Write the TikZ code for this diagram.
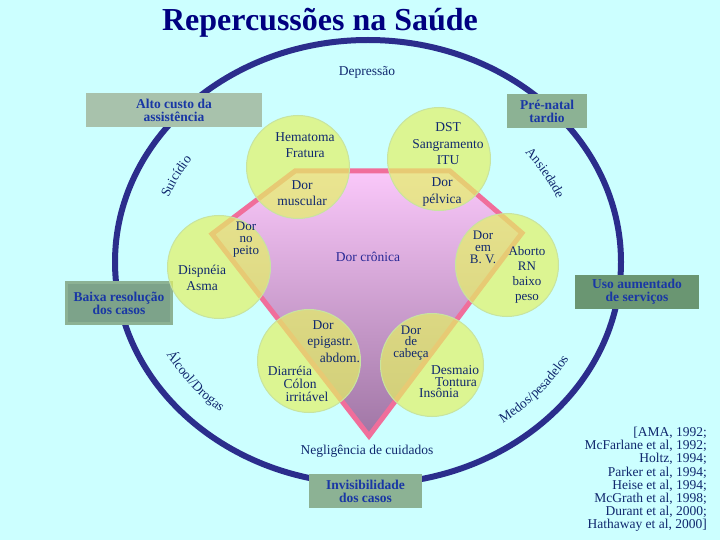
\documentclass[tikz,border=0pt]{standalone}
\usepackage{fontspec}
\setmainfont{Liberation Serif}
\usetikzlibrary{decorations.text}

\definecolor{bgcyan}{RGB}{204,255,255}
\definecolor{ringblue}{RGB}{43,45,140}
\definecolor{titlenavy}{RGB}{0,0,128}
\definecolor{boxtext}{RGB}{25,55,165}
\definecolor{inktext}{RGB}{16,40,110}
\definecolor{chrontext}{RGB}{40,40,150}
\definecolor{penline}{RGB}{240,110,155}
\definecolor{pentop}{RGB}{250,200,250}
\definecolor{penbot}{RGB}{160,118,165}
\definecolor{blobfill}{RGB}{228,242,100}
\definecolor{blobedge}{RGB}{200,228,160}
\definecolor{boxa}{RGB}{168,194,172}
\definecolor{boxb}{RGB}{140,178,148}
\definecolor{boxc}{RGB}{125,163,138}
\definecolor{boxd}{RGB}{106,150,114}

\newcommand\arcfont{\fontsize{13.5}{13.5}\selectfont}

\tikzset{
  blob/.style={circle, minimum size=103pt, inner sep=0pt, fill=blobfill, fill opacity=0.7, draw=blobedge, line width=1pt},
  tag/.style={rectangle, inner sep=0pt, align=center, text=boxtext, font=\fontsize{13.5}{13}\selectfont\bfseries},
  lbl/.style={inner sep=0pt, align=center, text=inktext, font=\fontsize{13.5}{16.5}\selectfont},
  tight/.style={font=\fontsize{13}{12}\selectfont},
}

\begin{document}
\begin{tikzpicture}[x=1pt, y=-1pt]
  \fill[bgcyan] (0,0) rectangle (720,540);
  \useasboundingbox (0,0) rectangle (720,540);
  \node[text=titlenavy, font=\fontsize{32}{32}\selectfont\bfseries, inner sep=0pt] (title) at (320,23) {Repercussões na Saúde};

  \draw[line width=6pt, ringblue] (368,262) ellipse [x radius=253, y radius=222];

  \node[tag, fill=boxa, minimum width=176pt, minimum height=34pt] (alto) at (174,110) {Alto custo da\\assistência};
  \node[tag, fill=boxb, minimum width=80pt, minimum height=34pt] (prenatal) at (547,111) {Pré-natal\\tardio};
  \node[tag, fill=boxc, draw=boxb, line width=3pt, minimum width=105pt, minimum height=41pt] (baixa) at (119,303) {Baixa resolução\\dos casos};
  \node[tag, fill=boxd, minimum width=124pt, minimum height=34pt] (uso) at (637,292) {Uso aumentado\\de serviços};
  \node[tag, fill=boxb, minimum width=113pt, minimum height=34pt] (invis) at (365.5,491) {Invisibilidade\\dos casos};

  \node[lbl] (depr) at (367,72) {Depressão};
  \path[decorate, decoration={text along path, text align=center, text color=inktext, text={|\arcfont|Suicídio}}]
    ([shift={(368,262)}]187:213 and 182) arc[start angle=187, end angle=227, x radius=213, y radius=182];
  \path[decorate, decoration={text along path, text align=center, text color=inktext, text={|\arcfont|Ansiedade}}]
    ([shift={(368,262)}]-50:203 and 172) arc[start angle=-50, end angle=-10, x radius=203, y radius=172];
  \path[decorate, decoration={text along path, text align=center, text color=inktext, text={|\arcfont|Medos/pesadelos}}]
    ([shift={(368,262)}]68:230 and 199) arc[start angle=68, end angle=14, x radius=230, y radius=199];
  \path[decorate, decoration={text along path, text align=center, text color=inktext, text={|\arcfont|Álcool/Drogas}}]
    ([shift={(368,262)}]170:228 and 197) arc[start angle=170, end angle=114, x radius=228, y radius=197];

  \draw[line width=5pt, penline, top color=pentop, bottom color=penbot, line join=miter]
    (295,171) -- (450,171) -- (522,233) -- (369,436) -- (212,234) -- cycle;

  \node[blob] (hema) at (298,167) {};
  \node[blob] (dst) at (439,159) {};
  \node[blob] (dispn) at (219,267) {};
  \node[blob] (aborto) at (507,265) {};
  \node[blob] (epig) at (309,361) {};
  \node[blob] (cabeca) at (432,365) {};

  \node[lbl] (hematx) at (305,145) {Hematoma\\Fratura};
  \node[lbl] (musctx) at (302,193) {Dor\\muscular};
  \node[lbl] (dsttx) at (448,144) {DST\\Sangramento\\ITU};
  \node[lbl] (pelvtx) at (442,192) {Dor\\pélvica};
  \node[lbl, tight] (peitotx) at (246,240) {Dor\\no\\peito};
  \node[lbl] (asmatx) at (202,278) {Dispnéia\\Asma};
  \node[lbl, tight] (bvtx) at (483,247) {Dor\\em\\B. V.};
  \node[lbl, font=\fontsize{13}{15}\selectfont] (abortx) at (527,275) {Aborto\\RN\\baixo\\peso};
  \node[lbl] (epig1) at (323,325) {Dor};
  \node[lbl] (epig2) at (330,342) {epigastr.};
  \node[lbl] (epig3) at (340,358) {abdom.};
  \node[lbl] (colon1) at (290,371) {Diarréia};
  \node[lbl] (colon2) at (300,384) {Cólon};
  \node[lbl] (colon3) at (307,397) {irritável};
  \node[lbl, font=\fontsize{13}{11.5}\selectfont] (cabtx) at (411,343) {Dor\\de\\cabeça};
  \node[lbl] (desm1) at (455,370) {Desmaio};
  \node[lbl] (desm2) at (456,382) {Tontura};
  \node[lbl] (desm3) at (439,393) {Insônia};

  \node[lbl, text=chrontext] (cronica) at (368,257) {Dor crônica};
  \node[lbl] (neglig) at (367,451) {Negligência de cuidados};

  \node[anchor=north east, inner sep=0pt, align=right, text=inktext, font=\fontsize{13.5}{13.2}\selectfont] (refs) at (707,427)
    {[AMA, 1992;\\McFarlane et al, 1992;\\Holtz, 1994;\\Parker et al, 1994;\\Heise et al, 1994;\\McGrath et al, 1998;\\Durant et al, 2000;\\Hathaway et al, 2000]};
\end{tikzpicture}
\end{document}
